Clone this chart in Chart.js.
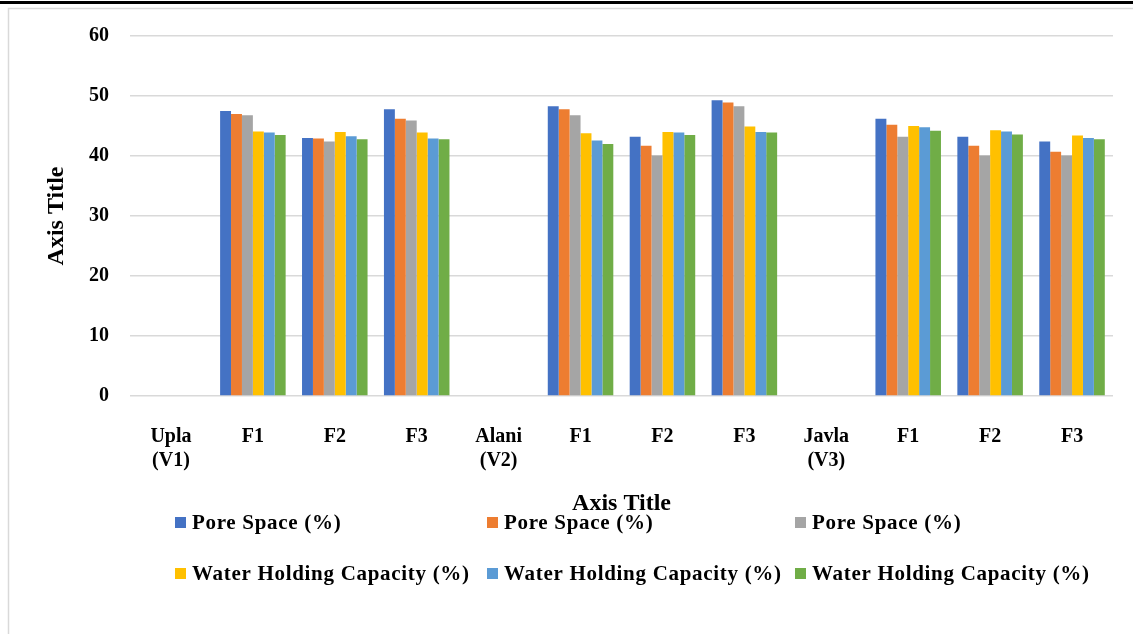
<!DOCTYPE html>
<html>
<head>
<meta charset="utf-8">
<script src="https://cdn.jsdelivr.net/npm/chart.js@4.4.1/dist/chart.umd.min.js"></script>
<style>
  html, body { margin: 0; padding: 0; background: #ffffff; }
  #wrap { position: relative; width: 1133px; height: 634px; }
</style>
</head>
<body>
<div id="wrap"><canvas id="c" width="1133" height="634"></canvas></div>
<script>
// ---- Data ----
const categories = [['Upla', '(V1)'], 'F1', 'F2', 'F3', ['Alani', '(V2)'], 'F1', 'F2', 'F3', ['Javla', '(V3)'], 'F1', 'F2', 'F3'];
const seriesLabels = ['Pore Space (%)', 'Pore Space (%)', 'Pore Space (%)', 'Water Holding Capacity (%)', 'Water Holding Capacity (%)', 'Water Holding Capacity (%)'];
const poreSpace1 = [null, 47.5, 43.0, 47.8, null, 48.3, 43.2, 49.3, null, 46.2, 43.2, 42.4];
const poreSpace2 = [null, 47.0, 42.9, 46.2, null, 47.8, 41.7, 48.9, null, 45.2, 41.7, 40.7];
const poreSpace3 = [null, 46.8, 42.4, 45.9, null, 46.8, 40.1, 48.3, null, 43.2, 40.1, 40.1];
const whc1 = [null, 44.1, 44.0, 43.9, null, 43.8, 44.0, 44.9, null, 45.0, 44.3, 43.4];
const whc2 = [null, 43.9, 43.3, 42.9, null, 42.6, 43.9, 44.0, null, 44.8, 44.1, 43.0];
const whc3 = [null, 43.5, 42.8, 42.8, null, 42.0, 43.5, 43.9, null, 44.2, 43.6, 42.8];
const yTicks = [0, 10, 20, 30, 40, 50, 60];
const xAxisTitle = 'Axis Title';
const yAxisTitle = 'Axis Title';

// ---- Styles ----
const colors = ['#4472C4', '#ED7D31', '#A5A5A5', '#FFC000', '#5B9BD5', '#70AD47'];
const FONT = "'Liberation Serif', 'Times New Roman', serif";
const seriesValues = [poreSpace1, poreSpace2, poreSpace3, whc1, whc2, whc3];

const datasets = seriesValues.map((vals, i) => ({
  label: seriesLabels[i],
  data: vals,
  backgroundColor: colors[i],
  borderWidth: 0,
  categoryPercentage: 0.8,
  barPercentage: 1.0
}));

// frame plugin
const framePlugin = {
  id: 'frame',
  beforeDraw(chart) {
    const ctx = chart.ctx;
    ctx.save();
    ctx.fillStyle = '#ffffff';
    ctx.fillRect(0, 0, chart.width, chart.height);
    ctx.fillStyle = '#000000';
    ctx.fillRect(0, 1, chart.width, 3);
    ctx.strokeStyle = '#d9d9d9';
    ctx.lineWidth = 1.5;
    ctx.beginPath();
    ctx.moveTo(chart.width, 8.5);
    ctx.lineTo(8.5, 8.5);
    ctx.lineTo(8.5, chart.height);
    ctx.stroke();
    ctx.restore();
  }
};

// custom grid legend (3 columns x 2 rows) built from dataset labels
const gridLegend = {
  id: 'gridLegend',
  afterDraw(chart) {
    const ctx = chart.ctx;
    const colX = [175, 487, 795];
    const rowY = [523, 574];
    ctx.save();
    ctx.font = "bold 21px " + FONT;
    if ('letterSpacing' in ctx) ctx.letterSpacing = '0.7px';
    ctx.textBaseline = 'middle';
    ctx.textAlign = 'left';
    chart.data.datasets.forEach((ds, i) => {
      const col = i % 3, row = Math.floor(i / 3);
      const x = colX[col], y = rowY[row];
      ctx.fillStyle = ds.backgroundColor;
      ctx.fillRect(x, y - 6, 11, 11);
      ctx.fillStyle = '#000000';
      ctx.fillText(ds.label, x + 17, y + 1);
    });
    ctx.restore();
  }
};

new Chart(document.getElementById('c'), {
  type: 'bar',
  data: { labels: categories, datasets },
  plugins: [framePlugin, gridLegend],
  options: {
    responsive: false,
    animation: false,
    layout: { padding: { left: 0, right: 20, top: 36, bottom: 116 } },
    plugins: {
      legend: { display: false },
      tooltip: { enabled: false }
    },
    scales: {
      x: {
        grid: { display: false },
        border: { display: false },
        ticks: {
          color: '#000000',
          font: { family: FONT, size: 20, weight: 'bold', lineHeight: 1.2 },
          padding: 21,
          maxRotation: 0,
          autoSkip: false
        },
        title: {
          display: true,
          text: xAxisTitle,
          color: '#000000',
          font: { family: FONT, size: 24, weight: 'bold' },
          padding: { top: 0, bottom: 0 }
        },
        afterFit(scale) { scale.height = 122; }
      },
      y: {
        min: 0,
        max: 60,
        afterBuildTicks(scale) { scale.ticks = yTicks.map(v => ({ value: v })); },
        grid: { color: '#d9d9d9', lineWidth: 1.5, drawTicks: false },
        border: { display: false },
        ticks: {
          color: '#000000',
          font: { family: FONT, size: 20, weight: 'bold' },
          padding: 21
        },
        title: {
          display: true,
          text: yAxisTitle,
          color: '#000000',
          font: { family: FONT, size: 24, weight: 'bold' },
          padding: { top: 42, bottom: 0 }
        },
        afterFit(scale) { scale.width = 130; }
      }
    }
  }
});
</script>
</body>
</html>
